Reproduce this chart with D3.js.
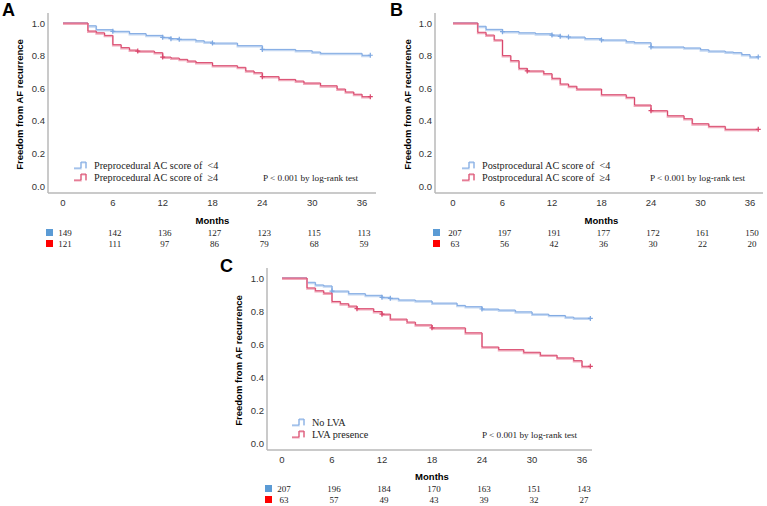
<!DOCTYPE html>
<html>
<head>
<meta charset="utf-8">
<script src="https://cdn.jsdelivr.net/npm/d3@7"></script>
<style>
  body { margin: 0; background: #fff; }
  svg { display: block; }
</style>
</head>
<body>
<div id="chart"></div>
<script>

// ---- data ----
var monthTicks = [0, 6, 12, 18, 24, 30, 36];
var yTicks = [0.0, 0.2, 0.4, 0.6, 0.8, 1.0];

// panel A: preprocedural AC score
var aLowSteps = [[0,1],[3,0.983],[4,0.959],[6,0.949],[8,0.935],[10,0.924],[12,0.912],[13,0.904],[14,0.9],
                 [16,0.891],[17,0.883],[18,0.877],[21,0.861],[24,0.838],[28,0.83],[30,0.822],[31,0.814],[36,0.802],[37,0.802]];
var aHighSteps = [[0,1],[3,0.951],[4,0.94],[5,0.924],[6,0.867],[7,0.849],[8,0.834],[9,0.828],[11,0.818],[12,0.791],
                  [13,0.785],[14,0.777],[15,0.767],[16,0.757],[18,0.738],[21,0.728],[22,0.706],[23,0.695],[24,0.671],
                  [26,0.654],[28,0.644],[29,0.632],[31,0.615],[33,0.595],[34,0.577],[35,0.563],[36,0.548],[37,0.548]];
var aLowCensor = [6, 12, 13, 14, 18, 24, 37];
var aHighCensor = [9, 12, 24, 37];
var aLowRisk = [149, 142, 136, 127, 123, 115, 113];
var aHighRisk = [121, 111, 97, 86, 79, 68, 59];
var aLegend = ["Preprocedural AC score of  <4", "Preprocedural AC score of  \u22654"];

// panel B: postprocedural AC score
var bLowSteps = [[0,1],[3,0.98],[4,0.961],[6,0.947],[8,0.94],[10,0.934],[12,0.926],[13,0.918],[14,0.914],[16,0.904],
                 [18,0.896],[21,0.885],[22,0.879],[24,0.853],[28,0.847],[30,0.836],[31,0.828],[33,0.822],[34,0.818],
                 [35,0.806],[36,0.792],[37,0.792]];
var bHighSteps = [[0,1],[3,0.943],[4,0.926],[5,0.896],[6,0.8],[7,0.769],[8,0.722],[9,0.706],[11,0.689],[12,0.661],
                  [13,0.626],[14,0.612],[15,0.595],[18,0.56],[21,0.544],[22,0.497],[24,0.462],[26,0.431],[28,0.413],
                  [29,0.382],[31,0.366],[33,0.348],[37,0.348]];
var bLowCensor = [6, 12, 13, 14, 18, 24, 37];
var bHighCensor = [9, 24, 37];
var bLowRisk = [207, 197, 191, 177, 172, 161, 150];
var bHighRisk = [63, 56, 42, 36, 30, 22, 20];
var bLegend = ["Postprocedural AC score of  <4", "Postprocedural AC score of  \u22654"];

// panel C: LVA
var cLowSteps = [[0,1],[3,0.974],[4,0.958],[5,0.952],[6,0.921],[8,0.905],[10,0.895],[12,0.883],[13,0.877],[14,0.867],
                 [16,0.861],[18,0.848],[21,0.834],[22,0.826],[24,0.812],[26,0.806],[28,0.795],[30,0.781],[32,0.773],
                 [34,0.763],[35,0.757],[37,0.755]];
var cHighSteps = [[0,1],[3,0.94],[4,0.923],[5,0.909],[6,0.858],[7,0.844],[8,0.83],[9,0.814],[11,0.797],[12,0.781],
                  [13,0.751],[15,0.733],[16,0.716],[18,0.698],[22,0.668],[24,0.582],[26,0.566],[29,0.55],[31,0.532],
                  [33,0.516],[35,0.499],[36,0.465],[37,0.465]];
var cLowCensor = [6, 12, 13, 24, 37];
var cHighCensor = [9, 12, 18, 37];
var cLowRisk = [207, 196, 184, 170, 163, 151, 143];
var cHighRisk = [63, 57, 49, 43, 39, 32, 27];
var cLegend = ["No LVA", "LVA presence"];

var pText = "P < 0.001 by log-rank test";

// ---- styles ----
var blueLine = "#7ea8e2", blueShade = "#c3d7f2";
var redLine = "#d9476c", redShade = "#f0aabb";
var blueBox = "#5b9bd5", redBox = "#ff0000";
var sans = "Liberation Sans, Arial, sans-serif";
var serif = "Liberation Serif, Times New Roman, serif";

var svg = d3.select('#chart')
    .append('svg')
    .attr('width', 767)
    .attr('height', 506);

svg.append('rect').attr('width', 767).attr('height', 506).attr('fill', '#fff');

var stepValue = function(steps, t) {
	var v = steps[0][1];
	steps.forEach(function(d) { if (d[0] <= t) v = d[1]; });
	return v;
};

var drawPanel = function(p) {
	var g = svg.append('g');
	var x = d3.scaleLinear().domain([0, 36]).range([p.x0, p.x36]);
	var y = d3.scaleLinear().domain([0, 1]).range([p.yBot, p.yTop]);

	// panel letter
	g.append('text')
	    .attr('x', p.letterX).attr('y', p.letterY)
	    .attr('font-family', sans).attr('font-weight', 'bold').attr('font-size', 18)
	    .text(p.letter);

	// axes lines
	g.append('line')
	    .attr('x1', p.axisX).attr('x2', p.axisX)
	    .attr('y1', p.axisTop).attr('y2', p.axisY)
	    .attr('stroke', '#b8b8b8').attr('stroke-width', 1.5);
	g.append('line')
	    .attr('x1', p.axisX).attr('x2', p.axisRight)
	    .attr('y1', p.axisY).attr('y2', p.axisY)
	    .attr('stroke', '#b8b8b8').attr('stroke-width', 1.5);

	// y ticks
	g.selectAll('.ytick').data(yTicks).enter().append('text')
	    .attr('x', p.axisX - 3)
	    .attr('y', function(d) { return y(d) + 3.5; })
	    .attr('text-anchor', 'end')
	    .attr('font-family', sans).attr('font-size', 9.5).attr('fill', '#333')
	    .text(function(d) { return d.toFixed(1); });

	// x ticks
	g.selectAll('.xtick').data(monthTicks).enter().append('text')
	    .attr('x', function(d) { return x(d); })
	    .attr('y', p.axisY + 12.5)
	    .attr('text-anchor', 'middle')
	    .attr('font-family', sans).attr('font-size', 9.5).attr('fill', '#333')
	    .text(function(d) { return d; });

	g.append('text')
	    .attr('x', x(18)).attr('y', p.axisY + p.monthsDy)
	    .attr('text-anchor', 'middle')
	    .attr('font-family', sans).attr('font-weight', 'bold').attr('font-size', 9.5)
	    .text('Months');

	// y label
	g.append('text')
	    .attr('transform', 'translate(' + p.ylabX + ',' + ((p.yTop + p.yBot) / 2) + ') rotate(-90)')
	    .attr('text-anchor', 'middle')
	    .attr('font-family', sans).attr('font-weight', 'bold').attr('font-size', 9.5)
	    .text('Freedom from AF recurrence');

	var line = d3.line()
	    .x(function(d) { return x(d[0]); })
	    .y(function(d) { return y(d[1]); })
	    .curve(d3.curveStepAfter);

	var series = [
		{steps: p.low, censor: p.lowCensor, c: blueLine, s: blueShade},
		{steps: p.high, censor: p.highCensor, c: redLine, s: redShade}
	];
	series.forEach(function(sr) {
		g.append('path').datum(sr.steps)
		    .attr('d', line)
		    .attr('transform', 'translate(0,1)')
		    .attr('fill', 'none').attr('stroke', sr.s).attr('stroke-width', 1.8);
		g.append('path').datum(sr.steps)
		    .attr('d', line)
		    .attr('fill', 'none').attr('stroke', sr.c).attr('stroke-width', 1);
		g.selectAll(null).data(sr.censor).enter().append('path')
		    .attr('d', function(t) {
			    var cx = x(t), cy = y(stepValue(sr.steps, t));
			    return 'M' + (cx - 2.5) + ',' + cy + 'H' + (cx + 2.5) + 'M' + cx + ',' + (cy - 2.5) + 'V' + (cy + 2.5);
		    })
		    .attr('stroke', sr.c).attr('stroke-width', 1.2);
	});

	// legend
	var legendColors = [[blueLine, blueShade], [redLine, redShade]];
	p.legend.forEach(function(txt, i) {
		var ly = p.legY + i * 12;
		var lx = p.legX;
		var d = 'M' + lx + ',' + (ly + 3) + 'H' + (lx + 7) + 'V' + (ly - 3) + 'H' + (lx + 12) + 'V' + (ly + 3);
		g.append('path').attr('d', d).attr('transform', 'translate(0,0.8)')
		    .attr('fill', 'none').attr('stroke', legendColors[i][1]).attr('stroke-width', 1.5);
		g.append('path').attr('d', d)
		    .attr('fill', 'none').attr('stroke', legendColors[i][0]).attr('stroke-width', 0.9);
		g.append('text')
		    .attr('x', lx + 20).attr('y', ly + 3.5)
		    .attr('font-family', serif).attr('font-size', 10.2).attr('fill', '#222')
		    .style('white-space', 'pre')
		    .text(txt);
	});
	g.append('text')
	    .attr('x', p.pX).attr('y', p.legY + 15.5)
	    .attr('font-family', serif).attr('font-size', 9.2).attr('fill', '#222')
	    .text(pText);

	// number at risk
	var rows = [[p.lowRisk, blueBox], [p.highRisk, redBox]];
	rows.forEach(function(r, i) {
		var ry = p.riskY + i * 11;
		g.append('rect')
		    .attr('x', p.axisX - 2).attr('y', ry - 4)
		    .attr('width', 7).attr('height', 7)
		    .attr('fill', r[1]);
		g.selectAll(null).data(r[0]).enter().append('text')
		    .attr('x', function(d, j) { return x(monthTicks[j]) + 2; })
		    .attr('y', ry + 3)
		    .attr('text-anchor', 'middle')
		    .attr('font-family', serif).attr('font-size', 9).attr('fill', '#222')
		    .text(function(d) { return d; });
	});
};

drawPanel({letter: 'A', letterX: 2, letterY: 16,
	axisX: 48, axisTop: 13, axisY: 193, axisRight: 376,
	x0: 63, x36: 362, yTop: 23, yBot: 186, ylabX: 23, monthsDy: 31,
	low: aLowSteps, high: aHighSteps, lowCensor: aLowCensor, highCensor: aHighCensor,
	legend: aLegend, legX: 74, legY: 165, pX: 263,
	lowRisk: aLowRisk, highRisk: aHighRisk, riskY: 233});

drawPanel({letter: 'B', letterX: 390, letterY: 16,
	axisX: 435, axisTop: 13, axisY: 193, axisRight: 763,
	x0: 453, x36: 750, yTop: 23, yBot: 186, ylabX: 411, monthsDy: 31,
	low: bLowSteps, high: bHighSteps, lowCensor: bLowCensor, highCensor: bHighCensor,
	legend: bLegend, legX: 462, legY: 165, pX: 650,
	lowRisk: bLowRisk, highRisk: bHighRisk, riskY: 233});

drawPanel({letter: 'C', letterX: 220, letterY: 272,
	axisX: 267, axisTop: 268, axisY: 450, axisRight: 592,
	x0: 282, x36: 582, yTop: 278, yBot: 443, ylabX: 242, monthsDy: 29.5,
	low: cLowSteps, high: cHighSteps, lowCensor: cLowCensor, highCensor: cHighCensor,
	legend: cLegend, legX: 292, legY: 422, pX: 482,
	lowRisk: cLowRisk, highRisk: cHighRisk, riskY: 489});

</script>
</body>
</html>
